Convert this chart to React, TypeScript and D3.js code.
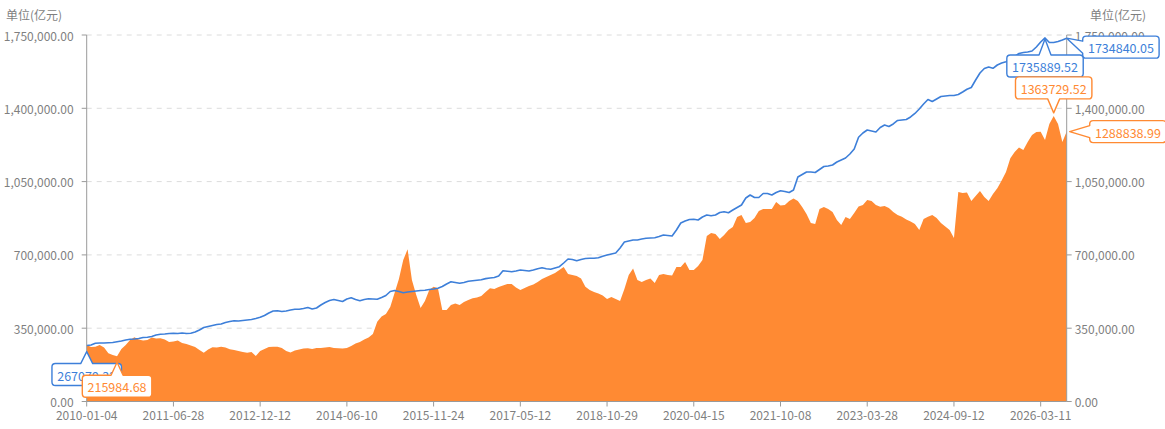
import React from "react";
import * as d3 from "d3";

// x axis tick labels, one every TICK_EVERY samples
const tickLabels = [
  "2010-01-04", "2011-06-28", "2012-12-12", "2014-06-10", "2015-11-24", "2017-05-12",
  "2018-10-29", "2020-04-15", "2021-10-08", "2023-03-28", "2024-09-12", "2026-03-11",
];
const TICK_EVERY = 20;

const yTicks = [0, 350000, 700000, 1050000, 1400000, 1750000];

// orange area (亿元)
const areaValues = [
  269800, 260200, 261700, 269800, 257900, 230200, 222000, 215984.68, 250700, 269800,
  293700, 306600, 296100, 291300, 293700, 305600, 300800, 301800, 296100, 284100,
  286500, 291300, 279300, 274600, 267400, 260200, 245900, 233000, 248300, 258800,
  257900, 261700, 257900, 249300, 245900, 241100, 236400, 233000, 236400, 217300,
  241100, 250700, 260200, 261700, 261700, 255500, 241100, 234000, 243500, 248300,
  253100, 254000, 250700, 255500, 255500, 257900, 260200, 255500, 254000, 253100,
  255500, 265000, 277000, 284100, 296100, 305600, 322300, 381000, 405900, 417800,
  451200, 518100, 584900, 675700, 726800, 580200, 508500, 446500, 479900, 532400,
  548200, 540500, 436900, 436900, 460800, 468000, 460800, 475100, 484700, 492800,
  496600, 503800, 522900, 540500, 537200, 546700, 553900, 561100, 561100, 544400,
  532400, 542000, 551500, 558700, 570600, 584900, 594500, 604000, 613600, 627900,
  642200, 608800, 604000, 599300, 587300, 548200, 532400, 522900, 515700, 506200,
  489400, 499000, 489400, 479900, 537200, 604000, 635100, 580200, 570600, 580200,
  587300, 565800, 604000, 608800, 604000, 601700, 642200, 642200, 666100, 627900,
  627900, 647000, 675700, 790300, 804600, 799800, 775900, 795000, 818900, 833200,
  881000, 890500, 852300, 857100, 876200, 909600, 919200, 919200, 919200, 952600,
  935900, 938300, 957400, 969300, 957400, 928700, 895300, 852300, 847600, 919200,
  928700, 919200, 904900, 866700, 842800, 881000, 871400, 900100, 931100, 938300,
  962200, 957400, 938300, 930200, 933500, 924000, 904900, 890500, 882400, 869100,
  859500, 847600, 818900, 871400, 882400, 890500, 876200, 852300, 835600, 818900,
  780700, 1000400, 995600, 998000, 957400, 981300, 1005100, 976500, 957400, 990800,
  1018000, 1055300, 1095900, 1161300, 1191400, 1212900, 1200900, 1239100, 1272500, 1286900,
  1288300, 1248700, 1325000, 1363729.52, 1325100, 1239100, 1288838.99,
];

// blue line (亿元)
const lineValues = [
  267079.32, 269800, 277900, 279300, 279300, 280800, 281700, 285100, 288900, 293700,
  297000, 298400, 300800, 305600, 306600, 310400, 317500, 320900, 322300, 324700,
  325700, 324700, 327100, 324700, 325700, 331900, 341400, 353400, 358100, 362900,
  367700, 370100, 377200, 382000, 385800, 384400, 386800, 389200, 391600, 396300,
  402100, 410700, 422600, 432100, 433600, 429800, 432100, 436900, 440300, 440300,
  444100, 448900, 441700, 446500, 460800, 472700, 482300, 487100, 482300, 477500,
  489400, 495600, 487100, 481300, 487100, 490900, 489400, 488000, 496600, 506200,
  525300, 530000, 525300, 519500, 522900, 525300, 527600, 530000, 531000, 534800,
  537200, 540500, 549100, 561100, 572000, 568200, 564400, 568200, 574000, 576300,
  578700, 581100, 586800, 589700, 592100, 599300, 624600, 622200, 619800, 623100,
  627900, 625500, 623100, 627900, 634100, 638400, 634100, 631700, 637500, 643700,
  661300, 680400, 678100, 672300, 678100, 682800, 683800, 683800, 686200, 693800,
  699500, 704300, 709100, 733000, 761600, 766400, 771200, 771200, 776000, 779300,
  780700, 782100, 787900, 795000, 792700, 790300, 818900, 852300, 861900, 869100,
  870000, 866700, 881000, 890500, 886700, 890500, 902500, 906300, 901500, 914400,
  926400, 938300, 971700, 986000, 974100, 974100, 993200, 993200, 986000, 998000,
  1006600, 1002800, 998000, 1009900, 1071900, 1083900, 1095900, 1095900, 1093500, 1107800,
  1122100, 1124500, 1129300, 1143600, 1153200, 1162700, 1181800, 1205700, 1261600, 1282100,
  1296400, 1291600, 1286900, 1308400, 1320300, 1313100, 1325100, 1341800, 1344200, 1346600,
  1358500, 1375200, 1396700, 1420600, 1442100, 1432500, 1444400, 1456400, 1458800, 1461200,
  1461200, 1465900, 1477900, 1490800, 1499400, 1535200, 1568600, 1590100, 1597200, 1591000,
  1606800, 1616300, 1622100, 1633000, 1647400, 1661700, 1666500, 1668900, 1673600, 1692700,
  1716600, 1735889.52, 1714200, 1714200, 1719000, 1726200, 1734840.05,
];

const ORANGE = "#ff8a33";
const BLUE = "#3d7fd9";
const AXIS = "#9a9a9a";
const LABEL = "#7f7f7f";
const FONT = "'Noto Sans CJK SC', 'Noto Sans', sans-serif";

const W = 1165;
const H = 429;
const left = 86.7;
const right = 1066.7;
const top = 35;
const bottom = 401.5;

type Dir = "up" | "down" | "left";

function Callout({ px, py, text, color, dir, gap, len, dy = 0 }: {
  px: number; py: number; text: string; color: string; dir: Dir; gap: number; len: number; dy?: number;
}) {
  const digits = text.replace(/[^0-9]/g, "").length;
  const w = digits * 6.9 + (text.length - digits) * 3.3 + 11;
  const h = 22;
  const r = 3.5;
  const b = 6;
  let x0: number, y0: number, tipX = px, tipY = py;
  let d: string;
  if (dir === "up") {
    tipY = py + gap;
    x0 = px - w / 2;
    y0 = tipY + len;
  } else if (dir === "down") {
    tipY = py - gap;
    x0 = px - w / 2;
    y0 = tipY - len - h;
  } else {
    tipX = px + gap;
    x0 = tipX + len;
    y0 = py - h / 2 + dy;
  }
  const x1 = x0 + w;
  const y1 = y0 + h;
  const cy = (y0 + y1) / 2;
  if (dir === "up") {
    d = `M${x0 + r},${y0} L${px - b},${y0} L${tipX},${tipY} L${px + b},${y0} L${x1 - r},${y0} Q${x1},${y0} ${x1},${y0 + r} L${x1},${y1 - r} Q${x1},${y1} ${x1 - r},${y1} L${x0 + r},${y1} Q${x0},${y1} ${x0},${y1 - r} L${x0},${y0 + r} Q${x0},${y0} ${x0 + r},${y0} Z`;
  } else if (dir === "down") {
    d = `M${x0 + r},${y0} L${x1 - r},${y0} Q${x1},${y0} ${x1},${y0 + r} L${x1},${y1 - r} Q${x1},${y1} ${x1 - r},${y1} L${px + b},${y1} L${tipX},${tipY} L${px - b},${y1} L${x0 + r},${y1} Q${x0},${y1} ${x0},${y1 - r} L${x0},${y0 + r} Q${x0},${y0} ${x0 + r},${y0} Z`;
  } else {
    const a = Math.max(cy - b, y0 + r);
    const c = Math.min(cy + b, y1 - r);
    d = `M${x0 + r},${y0} L${x1 - r},${y0} Q${x1},${y0} ${x1},${y0 + r} L${x1},${y1 - r} Q${x1},${y1} ${x1 - r},${y1} L${x0 + r},${y1} Q${x0},${y1} ${x0},${y1 - r} L${x0},${c} L${tipX},${tipY} L${x0},${a} L${x0},${y0 + r} Q${x0},${y0} ${x0 + r},${y0} Z`;
  }
  return (
    <g>
      <path d={d} fill="#fff" stroke={color} strokeWidth={1.4} strokeLinejoin="round" />
      <text x={(x0 + x1) / 2} y={cy + 0.5} fontSize={12.5} fill={color} textAnchor="middle" dominantBaseline="central">
        {text}
      </text>
    </g>
  );
}

export default function App() {
  const n = areaValues.length;
  const x = d3.scaleLinear().domain([0, n - 1]).range([left, right]);
  const y = d3.scaleLinear().domain([0, 1750000]).range([bottom, top]);
  const fmt = d3.format(",.2f");

  const areaPath = d3.area<number>()
    .x((_, i) => x(i))
    .y0(y(0))
    .y1((v) => y(v))(areaValues) || "";
  const linePath = d3.line<number>()
    .x((_, i) => x(i))
    .y((v) => y(v))(lineValues) || "";

  const areaMin = d3.minIndex(areaValues);
  const areaMax = d3.maxIndex(areaValues);
  const lineMax = d3.maxIndex(lineValues);
  const last = n - 1;

  return (
    <div>
      <style>{`body{margin:0}`}</style>
      <svg width={W} height={H} style={{ display: "block", fontFamily: FONT }}>
        {/* grid */}
        {yTicks.filter((t) => t > 0).map((t) => (
          <line key={t} x1={left} x2={right} y1={y(t)} y2={y(t)} stroke="#dcdcdc" strokeDasharray="5,5" />
        ))}

        {/* series */}
        <path d={areaPath} fill={ORANGE} />
        <path d={linePath} fill="none" stroke={BLUE} strokeWidth={1.6} strokeLinejoin="round" />

        {/* axes */}
        <line x1={left} x2={left} y1={top} y2={bottom} stroke={AXIS} />
        <line x1={right} x2={right} y1={top} y2={bottom} stroke={AXIS} />
        <line x1={left} x2={right} y1={bottom} y2={bottom} stroke={AXIS} />
        {yTicks.map((t) => (
          <g key={t}>
            <line x1={left - 5} x2={left} y1={y(t)} y2={y(t)} stroke={AXIS} />
            <text x={left - 13} y={y(t)} fontSize={12} fill={LABEL} textAnchor="end" dominantBaseline="central">
              {fmt(t)}
            </text>
            <line x1={right} x2={right + 5} y1={y(t)} y2={y(t)} stroke={AXIS} />
            <text x={right + 8} y={y(t)} fontSize={12} fill={LABEL} textAnchor="start" dominantBaseline="central">
              {fmt(t)}
            </text>
          </g>
        ))}
        {tickLabels.map((lab, k) => (
          <g key={lab}>
            <line x1={x(k * TICK_EVERY)} x2={x(k * TICK_EVERY)} y1={bottom} y2={bottom + 5} stroke={AXIS} />
            <text x={x(k * TICK_EVERY)} y={414.5} fontSize={12} fill={LABEL} textAnchor="middle" dominantBaseline="central">
              {lab}
            </text>
          </g>
        ))}
        <text x={6} y={14} fontSize={12} fill={LABEL} dominantBaseline="central">单位(亿元)</text>
        <text x={1090} y={14} fontSize={12} fill={LABEL} dominantBaseline="central">单位(亿元)</text>

        {/* mark points */}
        <Callout px={x(0)} py={y(lineValues[0])} text={String(lineValues[0])} color={BLUE} dir="up" gap={6} len={12} />
        <Callout px={x(lineMax)} py={y(lineValues[lineMax])} text={String(lineValues[lineMax])} color={BLUE} dir="up" gap={1} len={16} />
        <Callout px={x(last)} py={y(lineValues[last])} text={String(lineValues[last])} color={BLUE} dir="left" gap={0} len={16} dy={9} />
        <Callout px={x(areaMin)} py={y(areaValues[areaMin])} text={String(areaValues[areaMin])} color={ORANGE} dir="up" gap={6} len={13} />
        <Callout px={x(areaMax)} py={y(areaValues[areaMax])} text={String(areaValues[areaMax])} color={ORANGE} dir="down" gap={3} len={14} />
        <Callout px={x(last)} py={y(areaValues[last])} text={String(areaValues[last])} color={ORANGE} dir="left" gap={3} len={20} />
      </svg>
    </div>
  );
}
